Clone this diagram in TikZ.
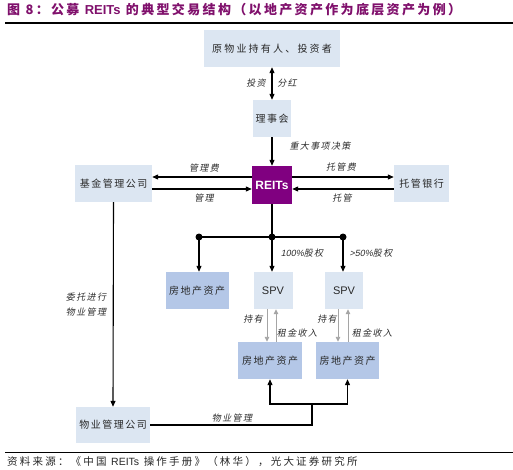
\documentclass[tikz,border=0pt]{standalone}
\usepackage{fontspec}
\setmainfont{Liberation Sans}
\newfontfamily\cjk[LetterSpace=15]{Noto Sans CJK SC}
\newfontfamily\cjkw[LetterSpace=22]{Noto Sans CJK SC}
\newfontfamily\cjki[LetterSpace=15,FakeSlant=0.2]{Noto Sans CJK SC}
\newfontfamily\cjkt[LetterSpace=18]{Noto Sans CJK SC}
\newfontfamily\cjks[LetterSpace=21]{Noto Sans CJK SC}
\newfontfamily\latsl[FakeSlant=0.2]{Liberation Sans}
\usetikzlibrary{arrows.meta}
\definecolor{titlecol}{RGB}{128,16,108}
\definecolor{boxlight}{RGB}{220,230,242}
\definecolor{boxdark}{RGB}{180,199,231}
\definecolor{reitscol}{RGB}{128,0,128}
\definecolor{arrgray}{RGB}{165,165,165}
\definecolor{txt}{RGB}{40,40,40}
\definecolor{labtxt}{RGB}{45,45,45}
\begin{document}
\begin{tikzpicture}[x=1pt,y=-1pt,
  lb/.style={fill=boxlight,inner sep=0pt,text=txt,font=\cjk\fontsize{10}{12}\selectfont},
  db/.style={fill=boxdark,inner sep=0pt,text=txt,font=\cjk\fontsize{10}{12}\selectfont},
  arr/.style={-{Triangle[length=6pt,width=5pt]},line width=1.1pt,black},
  darr/.style={{Triangle[length=6pt,width=5pt]}-{Triangle[length=6pt,width=5pt]},line width=1.1pt,black},
  ln/.style={line width=1.1pt,black},
  garr/.style={-{Triangle[length=5pt,width=4.5pt]},line width=0.9pt,draw=arrgray,fill=arrgray},
  lab/.style={inner sep=0pt,text=labtxt,font=\cjki\fontsize{9}{11}\selectfont},
  dot/.style={circle,fill=black,inner sep=0pt,minimum size=7pt},
]
\useasboundingbox (0,0) rectangle (513,470);
\fill[white] (0,0) rectangle (513,470);

% title and rules
\node[anchor=west,inner sep=0pt,text=titlecol] (title) at (7,10)
  {\cjkt\bfseries\fontsize{13}{15}\selectfont 图 8：公募 {\rmfamily\bfseries REITs} 的典型交易结构（以地产资产作为底层资产为例）};
\draw[line width=1.3pt] (5,23) -- (513,23);
\draw[line width=1pt] (5,452) -- (513,452);
\node[anchor=west,inner sep=0pt,text=txt] (src) at (7,462)
  {\cjks\fontsize{10.5}{12}\selectfont 资料来源：《中国 {\rmfamily REITs} 操作手册》（林华），光大证券研究所};

% boxes
\node[lb,font=\cjkw\fontsize{10}{12}\selectfont,minimum width=136pt,minimum height=37pt] (top) at (272,48.5) {原物业持有人、投资者};
\node[lb,minimum width=38pt,minimum height=37pt] (lsh) at (272,118.5) {理事会};
\node[fill=reitscol,text=white,inner sep=0pt,minimum width=40pt,minimum height=38pt,font=\bfseries\fontsize{12}{14}\selectfont] (reits) at (272,185) {REITs};
\node[lb,minimum width=77pt,minimum height=37pt] (fund) at (113.5,183.5) {基金管理公司};
\node[lb,minimum width=55pt,minimum height=37pt] (bank) at (421.5,183.5) {托管银行};
\node[db,minimum width=63pt,minimum height=37pt] (ra) at (197,290.5) {房地产资产};
\node[lb,minimum width=39pt,minimum height=37pt,font=\fontsize{11}{13}\selectfont] (spv1) at (273,290.5) {SPV};
\node[lb,minimum width=38pt,minimum height=37pt,font=\fontsize{11}{13}\selectfont] (spv2) at (344,290.5) {SPV};
\node[db,minimum width=64pt,minimum height=37pt] (ba1) at (270,360.5) {房地产资产};
\node[db,minimum width=63pt,minimum height=37pt] (ba2) at (347.5,360.5) {房地产资产};
\node[lb,minimum width=74pt,minimum height=36pt] (pm) at (113,425) {物业管理公司};

% top double arrow
\draw[darr] (top.south) -- (lsh.north);
\node[lab] at (256,83) {投资};
\node[lab] at (287,83) {分红};

% 理事会 -> REITs
\draw[arr] (lsh.south) -- (reits.north);
\node[lab] at (320,146) {重大事项决策};

% fund <-> REITs
\draw[arr] (reits.west |- 0,177) -- (fund.east |- 0,177);
\draw[arr] (fund.east |- 0,189) -- (reits.west |- 0,189);
\node[lab] at (204,168) {管理费};
\node[lab] at (204,198) {管理};

% REITs <-> bank
\draw[arr] (reits.east |- 0,177) -- (bank.west |- 0,177);
\draw[arr] (bank.west |- 0,189) -- (reits.east |- 0,189);
\node[lab] at (341,167) {托管费};
\node[lab] at (342,198) {托管};

% spine
\node[dot] (j0) at (272,237) {};
\node[dot] (j1) at (199,237) {};
\node[dot] (j2) at (343,237) {};
\draw[ln] (reits.south) -- (j0.center);
\draw[ln] (j1.center) -- (j2.center);
\draw[arr] (j1.center) -- (j1.center |- ra.north);
\draw[arr] (j0.center) -- (j0.center |- spv1.north);
\draw[arr] (j2.center) -- (j2.center |- spv2.north);
\node[lab] at (302,253) {{\latsl 100\%}股权};
\node[lab] at (371,253) {{\latsl >50\%}股权};

% gray arrows
\draw[garr] (267,0 |- spv1.south) -- (267,0 |- ba1.north);
\draw[garr] (276,0 |- ba1.north) -- (276,0 |- spv1.south);
\draw[garr] (338,0 |- spv2.south) -- (338,0 |- ba2.north);
\draw[garr] (348,0 |- ba2.north) -- (348,0 |- spv2.south);
\node[lab] at (253,319) {持有};
\node[lab] at (297,333) {租金收入};
\node[lab] at (327,319) {持有};
\node[lab] at (372,333) {租金收入};

% fund -> property manager
\draw[arr] (fund.south) -- (pm.north);
\node[lab] at (86,297) {委托进行};
\node[lab] at (86,312) {物业管理};

% property manager -> assets
\coordinate (m) at (312,404);
\draw[ln] (pm.east) -- (m |- pm.east) -- (m);
\draw[arr] (m) -| (ba1.south);
\draw[arr] (m) -| (ba2.south);
\node[lab] at (232,418) {物业管理};
\end{tikzpicture}
\end{document}
